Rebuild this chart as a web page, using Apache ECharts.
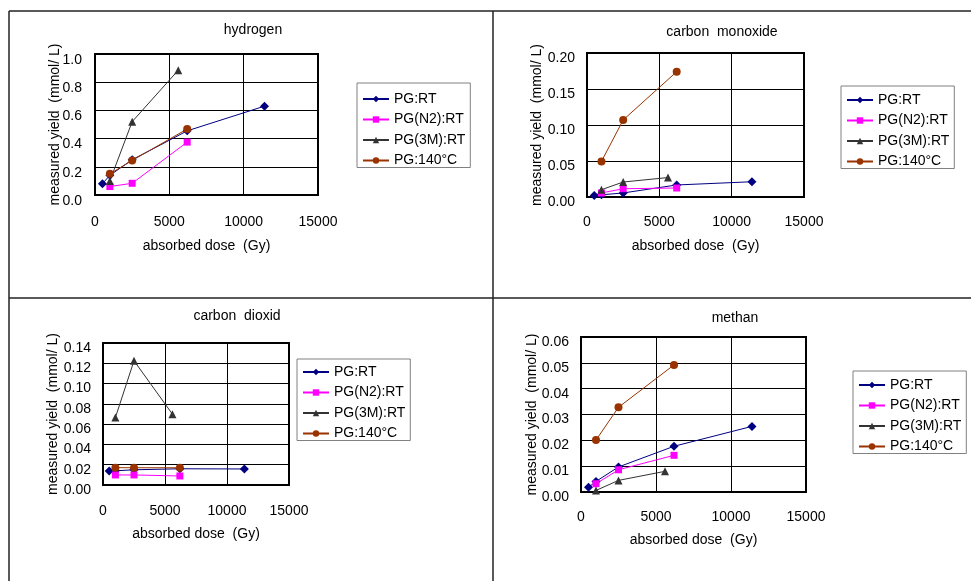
<!DOCTYPE html>
<html>
<head>
<meta charset="utf-8">
<script src="https://cdn.jsdelivr.net/npm/echarts@6/dist/echarts.min.js"></script>
<style>
    html, body { margin: 0; padding: 0; background: #fff; }
    #chart { width: 971px; height: 581px; }
</style>
</head>
<body>
<div id="chart"></div>
<script>
    // absorbed dose (Gy) per sample set
    var doseRT = [500, 1000, 2500, 6200, 11400];
    var doseN2 = [1000, 2500, 6200];
    var dose3M = [1000, 2500, 5600];
    var dose140 = [1000, 2500, 6200];

    var seriesNames = ['PG:RT', 'PG(N2):RT', 'PG(3M):RT', 'PG:140°C'];
    var panelTitles = ['hydrogen', 'carbon  monoxide', 'carbon  dioxid', 'methan'];

    // measured yield (mmol/L)
    var h2RT = [0.08, 0.14, 0.25, 0.455, 0.63];
    var h2N2 = [0.06, 0.083, 0.375];
    var h23M = [0.10, 0.52, 0.885];
    var h2140 = [0.15, 0.245, 0.468];

    var coRT = [0.002, 0.003, 0.0056, 0.0167, 0.0212];
    var coN2 = [0.0056, 0.0115, 0.0125];
    var co3M = [0.0101, 0.0208, 0.027];
    var co140 = [0.0494, 0.107, 0.174];

    var co2RT = [0.0138, 0.014, 0.015, 0.016, 0.0158];
    var co2N2 = [0.0099, 0.0099, 0.0089];
    var co23M = [0.0665, 0.1225, 0.0698];
    var co2140 = [0.0171, 0.017, 0.017];

    var ch4RT = [0.0018, 0.0041, 0.0097, 0.0177, 0.0254];
    var ch4N2 = [0.0032, 0.0086, 0.0142];
    var ch43M = [0.0006, 0.0045, 0.0080];
    var ch4140 = [0.0201, 0.0328, 0.0492];

    var yMax = [1.0, 0.20, 0.14, 0.06];
    var yStep = [0.2, 0.05, 0.02, 0.01];
    var yDigits = [1, 2, 2, 2];

    var panelData = [
        [h2RT, h2N2, h23M, h2140],
        [coRT, coN2, co3M, co140],
        [co2RT, co2N2, co23M, co2140],
        [ch4RT, ch4N2, ch43M, ch4140]
    ];
    var doses = [doseRT, doseN2, dose3M, dose140];

    var colors = ['#000080', '#ff00ff', '#333333', '#993300'];
    var symbols = ['diamond', 'rect', 'triangle', 'circle'];
    var symbolSizes = [9, 7, 8, 8];

    // layout of each panel
    var grids = [
        { left: 95, top: 54, width: 223, height: 141 },
        { left: 587, top: 53, width: 217, height: 144 },
        { left: 103, top: 343, width: 186, height: 142 },
        { left: 581, top: 337, width: 225, height: 155 }
    ];
    var legendPos = [
        { left: 357, top: 83, pad: 9 },
        { left: 841, top: 86, pad: 7 },
        { left: 297, top: 359, pad: 6 },
        { left: 853, top: 371, pad: 7 }
    ];
    var titlePos = [[253, 30], [722, 32], [237, 316], [735, 318]];
    var xLabelMargin = [20, 18, 19, 18];
    var xNameGap = [44, 42, 42, 41];
    var yLabelMargin = [13, 12, 12, 12];
    var yLabelShift = [-1, -2, -2, -2];
    var yNameGap = [33, 43, 43, 42];

    var font = '"Liberation Sans", Arial, sans-serif';

    var chart = echarts.init(document.getElementById('chart'));

    var option = {
        animation: false,
        textStyle: { fontFamily: font, color: '#000' },
        grid: [],
        xAxis: [],
        yAxis: [],
        legend: [],
        series: [],
        graphic: []
    };

    grids.forEach(function (g, p) {
        option.grid.push({
            left: g.left, top: g.top, width: g.width, height: g.height,
            show: true, borderColor: '#000', borderWidth: 2, backgroundColor: '#fff'
        });
        option.xAxis.push({
            type: 'value', gridIndex: p, min: 0, max: 15000, interval: 5000,
            name: 'absorbed dose  (Gy)', nameLocation: 'middle', nameGap: xNameGap[p],
            nameMoveOverlap: false,
            nameTextStyle: { fontSize: 14, color: '#000', fontFamily: font },
            axisLine: { show: false }, axisTick: { show: false },
            splitLine: { lineStyle: { color: '#000', width: 1 } },
            axisLabel: {
                fontSize: 14, color: '#000', margin: xLabelMargin[p], fontFamily: font,
                formatter: function (v) { return String(v); }
            }
        });
        option.yAxis.push({
            type: 'value', gridIndex: p, min: 0, max: yMax[p], interval: yStep[p],
            name: 'measured yield  (mmol/ L)', nameLocation: 'middle', nameGap: yNameGap[p],
            nameMoveOverlap: false,
            nameTextStyle: { fontSize: 14, color: '#000', fontFamily: font },
            axisLine: { show: false }, axisTick: { show: false },
            splitLine: { lineStyle: { color: '#000', width: 1 } },
            axisLabel: {
                fontSize: 14, color: '#000', margin: yLabelMargin[p], fontFamily: font,
                verticalAlign: 'top', padding: [yLabelShift[p], 0, 0, 0],
                formatter: (function (d) { return function (v) { return v.toFixed(d); }; })(yDigits[p])
            }
        });
        var lp = legendPos[p];
        option.legend.push({
            orient: 'vertical', left: lp.left, top: lp.top,
            padding: [lp.pad, 5, 0, 5], itemGap: 6.5, itemWidth: 26, itemHeight: 8,
            borderColor: '#808080', borderWidth: 1, backgroundColor: '#fff',
            textStyle: { fontSize: 14, color: '#000', fontFamily: font },
            data: seriesNames
        });
        panelData[p].forEach(function (vals, s) {
            option.series.push({
                name: seriesNames[s], type: 'line', xAxisIndex: p, yAxisIndex: p,
                data: vals.map(function (v, i) { return [doses[s][i], v]; }),
                symbol: symbols[s], symbolSize: symbolSizes[s],
                color: colors[s],
                lineStyle: { color: colors[s], width: 1 },
                itemStyle: { color: colors[s] }
            });
        });
        option.graphic.push({
            type: 'text', x: titlePos[p][0], y: titlePos[p][1],
            style: { text: panelTitles[p], fontSize: 14, fontFamily: font, fill: '#000', align: 'center', verticalAlign: 'middle' }
        });
    });

    // outer frames of the four pasted charts
    var frameStyle = { stroke: '#222', lineWidth: 1.5 };
    option.graphic.push(
        { type: 'line', shape: { x1: 9, y1: 11, x2: 971, y2: 11 }, style: frameStyle },
        { type: 'line', shape: { x1: 9, y1: 298, x2: 971, y2: 298 }, style: frameStyle },
        { type: 'line', shape: { x1: 9, y1: 11, x2: 9, y2: 581 }, style: frameStyle },
        { type: 'line', shape: { x1: 493, y1: 11, x2: 493, y2: 581 }, style: frameStyle }
    );

    chart.setOption(option);
</script>
</body>
</html>
